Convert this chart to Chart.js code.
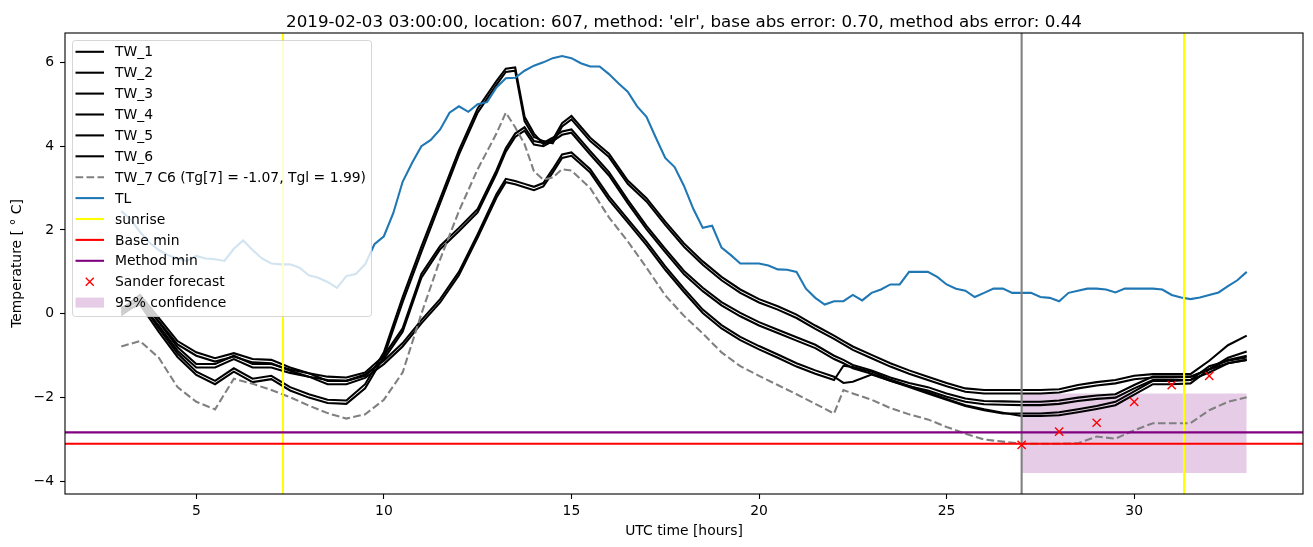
<!DOCTYPE html>
<html>
<head>
<meta charset="utf-8">
<title>Temperature forecast - location 607</title>
<script src="https://cdn.jsdelivr.net/npm/chart.js@4.4.1/dist/chart.umd.min.js"></script>
<style>
  html, body { margin: 0; padding: 0; background: #ffffff; }
  #wrap { width: 1313px; height: 547px; }
</style>
</head>
<body>
<div id="wrap"><canvas id="chart" width="1313" height="547"></canvas></div>
<script>
/* ══════════════════════════════════════
   DATA
══════════════════════════════════════ */
var hoursTW = [3, 3.5, 4, 4.5, 5, 5.5, 6, 6.5, 7, 7.5, 8, 8.5, 9, 9.5, 10, 10.5, 11, 11.5, 12, 12.5, 13,
  13.25, 13.5, 13.75, 14, 14.25, 14.5, 14.75, 15,
  15.5, 16, 16.5, 17, 17.5, 18, 18.5, 19, 19.5, 20, 20.5, 21, 21.5, 22, 22.25,
  22.5, 23, 23.5, 24, 24.5, 25, 25.5, 26, 26.5, 27, 27.5, 28, 28.5, 29, 29.5, 30, 30.5, 31, 31.5, 32, 32.5, 33];

var tw1 = [0.15, 0.3, -0.35, -0.95, -1.38, -1.6, -1.3, -1.55, -1.48, -1.75,
  -1.92, -2.05, -2.07, -1.68, -0.92, 0.4, 1.6, 2.75, 3.9, 4.9, 5.55,
  5.85, 5.88, 4.7, 4.3, 4.05, 4.15, 4.55, 4.72,
  4.2, 3.82, 3.18, 2.76, 2.2, 1.68, 1.25, 0.88, 0.58, 0.35, 0.18, -0.02, -0.28, -0.52,
  -0.65, -0.78,
  -0.98, -1.18, -1.35, -1.5, -1.65, -1.78, -1.82, -1.82, -1.82, -1.82, -1.8, -1.7, -1.63, -1.58, -1.48, -1.44, -1.44, -1.44, -1.12, -0.75, -0.52];
var tw2 = [0.05, 0.22, -0.43, -1.03, -1.46, -1.68, -1.38, -1.63, -1.56, -1.83,
  -2.0, -2.13, -2.15, -1.78, -1.02, 0.28, 1.48, 2.64, 3.8, 4.8, 5.46,
  5.77, 5.8, 4.6, 4.22, 4.12, 4.07, 4.47, 4.64,
  4.12, 3.74, 3.1, 2.68, 2.12, 1.6, 1.17, 0.8, 0.5, 0.27, 0.1, -0.1, -0.36, -0.6,
  -0.73, -0.86,
  -1.06, -1.26, -1.43, -1.58, -1.73, -1.86, -1.9, -1.9, -1.9, -1.9, -1.88, -1.78, -1.71, -1.66, -1.56, -1.52, -1.52, -1.51, -1.32, -1.05, -0.9];
var tw3 = [0.1, 0.45, -0.1, -0.65, -0.92, -1.06, -0.94, -1.08, -1.1, -1.28,
  -1.42, -1.5, -1.52, -1.4, -1.0, -0.35, 0.95, 1.62, 2.05, 2.5, 3.42,
  3.95, 4.3, 4.45, 4.12, 4.08, 4.2, 4.35, 4.4,
  3.88, 3.38, 2.72, 2.1, 1.55, 1.02, 0.62, 0.28, 0.02, -0.2, -0.38, -0.56, -0.74, -1.0,
  -1.1, -1.22,
  -1.35, -1.52, -1.65, -1.75, -1.9, -2.02, -2.08, -2.09, -2.1, -2.1, -2.07, -2.0, -1.95, -1.92, -1.7, -1.5, -1.5, -1.5, -1.32, -1.1, -1.0];
var tw4 = [0.02, 0.37, -0.18, -0.73, -1.0, -1.14, -1.02, -1.16, -1.18, -1.36,
  -1.5, -1.58, -1.6, -1.48, -1.08, -0.43, 0.86, 1.54, 1.97, 2.42, 3.34,
  3.87, 4.22, 4.37, 4.04, 4.0, 4.12, 4.27, 4.32,
  3.8, 3.3, 2.64, 2.02, 1.47, 0.94, 0.54, 0.2, -0.06, -0.28, -0.46, -0.64, -0.82, -1.08,
  -1.18, -1.3,
  -1.43, -1.6, -1.73, -1.83, -1.98, -2.1, -2.16, -2.17, -2.18, -2.18, -2.15, -2.08, -2.03, -2.0, -1.78, -1.58, -1.58, -1.58, -1.4, -1.18, -1.1];
var tw5 = [0.05, 0.35, -0.2, -0.8, -1.2, -1.2, -1.0, -1.2, -1.2, -1.33,
  -1.42, -1.6, -1.6, -1.45, -1.12, -0.7, -0.15, 0.35, 1.0, 1.9, 2.85,
  3.22, 3.17, 3.1, 3.03, 3.12, 3.45, 3.8, 3.85,
  3.45, 2.8, 2.26, 1.72, 1.13, 0.6, 0.1, -0.27, -0.55, -0.77, -0.97, -1.18, -1.35, -1.5,
  -1.65, -1.62,
  -1.45, -1.6, -1.75, -1.9, -2.05, -2.2, -2.3, -2.38, -2.38, -2.38, -2.35, -2.28, -2.2, -2.1, -1.85, -1.6, -1.6, -1.58, -1.25, -1.12, -1.04];
var tw6 = [-0.03, 0.27, -0.28, -0.88, -1.28, -1.28, -1.08, -1.28, -1.28, -1.41,
  -1.5, -1.68, -1.68, -1.53, -1.2, -0.78, -0.23, 0.27, 0.92, 1.82, 2.77,
  3.14, 3.09, 3.02, 2.95, 3.04, 3.37, 3.72, 3.77,
  3.37, 2.72, 2.18, 1.64, 1.05, 0.52, 0.02, -0.35, -0.63, -0.85, -1.05, -1.26, -1.43, -1.58,
  -1.24, -1.27,
  -1.38, -1.57, -1.72, -1.87, -2.03, -2.18, -2.28, -2.36, -2.44, -2.44, -2.42, -2.35, -2.27, -2.18, -1.93, -1.68, -1.68, -1.66, -1.33, -1.18, -1.1];
var tw7 = [-0.78, -0.65, -1.05, -1.75, -2.1, -2.28, -1.55, -1.67, -1.82, -1.99,
  -2.19, -2.37, -2.5, -2.4, -2.05, -1.4, 0.0, 1.3, 2.45, 3.45, 4.3,
  4.8, 4.45, 4.05, 3.4, 3.2, 3.25, 3.45, 3.42,
  3.0, 2.3, 1.73, 1.1, 0.44, -0.05, -0.47, -0.92, -1.25, -1.48, -1.7, -1.92, -2.15, -2.38,
  -1.82, -1.9,
  -2.05, -2.25, -2.4, -2.52, -2.7, -2.86, -3.0, -3.05, -3.1, -3.1, -3.1, -3.09, -2.93, -2.98, -2.78, -2.61, -2.61, -2.61, -2.3, -2.1, -1.99];

var hoursTL = [3, 3.25, 3.5, 3.75, 4, 4.25, 4.5, 4.75, 5, 5.25, 5.5, 5.75, 6, 6.25, 6.5, 6.75,
  7, 7.25, 7.5, 7.75, 8, 8.25, 8.5, 8.75, 9, 9.25, 9.5, 9.75, 10, 10.25, 10.5, 10.75,
  11, 11.25, 11.5, 11.75, 12, 12.25, 12.5, 12.75, 13, 13.25, 13.5, 13.75, 14, 14.25, 14.5, 14.75,
  15, 15.25, 15.5, 15.75, 16, 16.25, 16.5, 16.75, 17, 17.25, 17.5, 17.75, 18, 18.25, 18.5, 18.75,
  19, 19.25, 19.5, 19.75, 20, 20.25, 20.5, 20.75, 21, 21.25, 21.5, 21.75, 22, 22.25, 22.5, 22.75,
  23, 23.25, 23.5, 23.75, 24, 24.25, 24.5, 24.75, 25, 25.25, 25.5, 25.75, 26, 26.25, 26.5, 26.75,
  27, 27.25, 27.5, 27.75, 28, 28.25, 28.5, 28.75, 29, 29.25, 29.5, 29.75, 30, 30.25, 30.5, 30.75,
  31, 31.25, 31.5, 31.75, 32, 32.25, 32.5, 32.75, 33];
var tl = [2.45, 2.25, 1.95, 1.7, 1.52, 1.4, 1.32, 1.26, 1.38, 1.32, 1.3, 1.26, 1.55, 1.75, 1.52, 1.32,
  1.2, 1.18, 1.18, 1.1, 0.92, 0.86, 0.76, 0.62, 0.9, 0.95, 1.18, 1.66, 1.85, 2.4, 3.15, 3.6,
  4.0, 4.15, 4.4, 4.8, 4.95, 4.82, 5.0, 5.05, 5.4, 5.62, 5.63, 5.8, 5.92, 6.0, 6.1, 6.15,
  6.1, 5.98, 5.9, 5.9, 5.72, 5.5, 5.3, 4.95, 4.7, 4.2, 3.72, 3.5, 3.05, 2.5, 2.05, 2.1,
  1.58, 1.4, 1.2, 1.2, 1.2, 1.15, 1.06, 1.05, 1.0, 0.6, 0.38, 0.22, 0.3, 0.3, 0.45, 0.32,
  0.5, 0.58, 0.7, 0.7, 1.0, 1.0, 1.0, 0.88, 0.7, 0.6, 0.55, 0.4, 0.5, 0.6, 0.6, 0.5,
  0.5, 0.5, 0.4, 0.38, 0.3, 0.5, 0.55, 0.6, 0.6, 0.58, 0.51, 0.6, 0.6, 0.6, 0.6, 0.58,
  0.45, 0.39, 0.35, 0.39, 0.45, 0.51, 0.66, 0.8, 1.0];

var sunriseHours  = [7.31, 31.33];
var forecastStart = 27;
var baseMin       = -3.1;
var methodMin     = -2.83;
var sanderHours   = [27, 28, 29, 30, 31, 32];
var sanderTemps   = [-3.13, -2.81, -2.6, -2.1, -1.7, -1.48];
var confHours     = [27, 33];
var confUpper     = -1.9;
var confLower     = -3.8;

var xTicks  = [5, 10, 15, 20, 25, 30];
var yTicks  = [-4, -2, 0, 2, 4, 6];
var xLimits = [1.5, 34.5];
var yLimits = [-4.3, 6.7];

var titleText = "2019-02-03 03:00:00, location: 607, method: 'elr', base abs error: 0.70, method abs error: 0.44";

/* ══════════════════════════════════════
   HELPERS
══════════════════════════════════════ */
var FONT = '"DejaVu Sans", Verdana, sans-serif';

function pairs(xs, ys) {
  return xs.map(function(x, i) { return { x: x, y: ys[i] }; });
}

function lineSet(label, xs, ys, color, order, extra) {
  var ds = {
    label: label,
    data: pairs(xs, ys),
    borderColor: color,
    backgroundColor: color,
    borderWidth: 2.08,
    pointRadius: 0,
    tension: 0,
    fill: false,
    order: order
  };
  for (var k in (extra || {})) ds[k] = extra[k];
  return ds;
}

function vLine(x, color, order) {
  return lineSet('', [x, x], [yLimits[0], yLimits[1]], color, order);
}

function hLine(y, color, order) {
  return lineSet('', [xLimits[0], xLimits[1]], [y, y], color, order);
}

/* ══════════════════════════════════════
   LEGEND + FRAME + TEXTS (matplotlib look)
══════════════════════════════════════ */
var legendItems = [
  { label: 'TW_1', kind: 'line', color: '#000000' },
  { label: 'TW_2', kind: 'line', color: '#000000' },
  { label: 'TW_3', kind: 'line', color: '#000000' },
  { label: 'TW_4', kind: 'line', color: '#000000' },
  { label: 'TW_5', kind: 'line', color: '#000000' },
  { label: 'TW_6', kind: 'line', color: '#000000' },
  { label: 'TW_7 C6 (Tg[7] = -1.07, Tgl = 1.99)', kind: 'dash', color: '#808080' },
  { label: 'TL', kind: 'line', color: '#1f77b4' },
  { label: 'sunrise', kind: 'line', color: '#ffff00' },
  { label: 'Base min', kind: 'line', color: '#ff0000' },
  { label: 'Method min', kind: 'line', color: '#800080' },
  { label: 'Sander forecast', kind: 'cross', color: '#ff0000' },
  { label: '95% confidence', kind: 'patch', color: 'rgba(128,0,128,0.2)' }
];

function roundRect(ctx, x, y, w, h, r) {
  ctx.beginPath();
  ctx.moveTo(x + r, y);
  ctx.lineTo(x + w - r, y);
  ctx.arcTo(x + w, y, x + w, y + r, r);
  ctx.lineTo(x + w, y + h - r);
  ctx.arcTo(x + w, y + h, x + w - r, y + h, r);
  ctx.lineTo(x + r, y + h);
  ctx.arcTo(x, y + h, x, y + h - r, r);
  ctx.lineTo(x, y + r);
  ctx.arcTo(x, y, x + r, y, r);
  ctx.closePath();
}

var decorPlugin = {
  id: 'decor',
  afterDraw: function(chart) {
    var ctx = chart.ctx;
    var ca  = chart.chartArea;
    ctx.save();

    /* axes frame */
    ctx.strokeStyle = '#000000';
    ctx.lineWidth = 1.1;
    ctx.strokeRect(ca.left, ca.top, ca.right - ca.left, ca.bottom - ca.top);

    /* legend box */
    var bx = ca.left + 7, by = ca.top + 7, bw = 299, bh = 276;
    roundRect(ctx, bx + 0.5, by + 0.5, bw, bh, 3);
    ctx.fillStyle = 'rgba(255,255,255,0.8)';
    ctx.fill();
    ctx.strokeStyle = 'rgba(204,204,204,0.8)';
    ctx.lineWidth = 1;
    ctx.stroke();

    ctx.font = '13.9px ' + FONT;
    ctx.textBaseline = 'middle';
    ctx.textAlign = 'left';
    var hx0 = bx + 3.5, hx1 = bx + 32;
    legendItems.forEach(function(it, i) {
      var y = by + 11.8 + i * 20.9;
      ctx.setLineDash([]);
      if (it.kind === 'line' || it.kind === 'dash') {
        ctx.strokeStyle = it.color;
        ctx.lineWidth = 2.08;
        if (it.kind === 'dash') ctx.setLineDash([7.7, 3.3]);
        ctx.beginPath();
        ctx.moveTo(hx0, y);
        ctx.lineTo(hx1, y);
        ctx.stroke();
        ctx.setLineDash([]);
      } else if (it.kind === 'cross') {
        var cx = (hx0 + hx1) / 2, s = 4;
        ctx.strokeStyle = it.color;
        ctx.lineWidth = 1.4;
        ctx.beginPath();
        ctx.moveTo(cx - s, y - s); ctx.lineTo(cx + s, y + s);
        ctx.moveTo(cx - s, y + s); ctx.lineTo(cx + s, y - s);
        ctx.stroke();
      } else {
        ctx.fillStyle = it.color;
        ctx.fillRect(hx0, y - 5, hx1 - hx0, 10);
      }
      ctx.fillStyle = '#000000';
      ctx.fillText(it.label, bx + 43, y + 1);
    });

    /* title and axis labels */
    ctx.fillStyle = '#000000';
    ctx.textAlign = 'center';
    ctx.textBaseline = 'alphabetic';
    ctx.font = '16.7px ' + FONT;
    ctx.fillText(titleText, (ca.left + ca.right) / 2, ca.top - 6.5);

    ctx.font = '13.9px ' + FONT;
    ctx.fillText('UTC time [hours]', (ca.left + ca.right) / 2, 535);

    ctx.translate(21, (ca.top + ca.bottom) / 2);
    ctx.rotate(-Math.PI / 2);
    ctx.fillText('Temperature [ \u00b0 C]', 0, 0);

    ctx.restore();
  }
};

/* ══════════════════════════════════════
   DATASETS (later = drawn on top, like matplotlib)
══════════════════════════════════════ */
var datasets = [];
var twSeries = [tw1, tw2, tw3, tw4, tw5, tw6];
twSeries.forEach(function(s, i) {
  datasets.push(lineSet('TW_' + (i + 1), hoursTW, s, '#000000', 90 - i));
});
datasets.push(lineSet('TW_7', hoursTW, tw7, '#808080', 80, { borderDash: [7.7, 3.3] }));
datasets.push(lineSet('TL', hoursTL, tl, '#1f77b4', 70));
sunriseHours.forEach(function(h, i) {
  datasets.push(vLine(h, '#ffff00', 60 - i));
});
datasets.push(vLine(forecastStart, '#808080', 50));
datasets.push(hLine(baseMin, '#ff0000', 40));
datasets.push(hLine(methodMin, '#800080', 30));
datasets.push({
  label: 'Sander forecast',
  data: pairs(sanderHours, sanderTemps),
  showLine: false,
  pointStyle: 'crossRot',
  pointRadius: 5.8,
  pointBorderWidth: 1.4,
  pointBorderColor: '#ff0000',
  pointBackgroundColor: '#ff0000',
  order: 20
});
datasets.push({
  label: '95% confidence',
  data: pairs(confHours, [confUpper, confUpper]),
  borderColor: 'rgba(0,0,0,0)',
  borderWidth: 1,
  backgroundColor: 'rgba(128,0,128,0.2)',
  pointRadius: 0,
  fill: { value: confLower },
  order: 100
});

/* ══════════════════════════════════════
   CHART
══════════════════════════════════════ */
function tickLabel(v) {
  return String(v).replace('-', '\u2212');
}

new Chart(document.getElementById('chart').getContext('2d'), {
  type: 'line',
  data: { datasets: datasets },
  plugins: [decorPlugin],
  options: {
    responsive: false,
    animation: false,
    devicePixelRatio: 1,
    layout: { padding: { left: 0, right: 10, top: 33, bottom: 0 } },
    plugins: {
      legend: { display: false },
      title: { display: false },
      tooltip: { enabled: false }
    },
    scales: {
      x: {
        type: 'linear',
        min: xLimits[0],
        max: xLimits[1],
        afterBuildTicks: function(scale) {
          scale.ticks = xTicks.map(function(v) { return { value: v }; });
        },
        afterFit: function(scale) { scale.height = 53; },
        grid: { drawOnChartArea: false, drawTicks: true, tickLength: 5, tickColor: '#000000', tickWidth: 1.1 },
        border: { display: false },
        ticks: {
          padding: 4,
          color: '#000000',
          maxRotation: 0,
          autoSkip: false,
          font: { family: FONT, size: 13.9 },
          callback: tickLabel
        }
      },
      y: {
        type: 'linear',
        min: yLimits[0],
        max: yLimits[1],
        afterBuildTicks: function(scale) {
          scale.ticks = yTicks.map(function(v) { return { value: v }; });
        },
        afterFit: function(scale) { scale.width = 65; },
        grid: { drawOnChartArea: false, drawTicks: true, tickLength: 5, tickColor: '#000000', tickWidth: 1.1 },
        border: { display: false },
        ticks: {
          padding: 6,
          color: '#000000',
          autoSkip: false,
          font: { family: FONT, size: 13.9 },
          callback: tickLabel
        }
      }
    }
  }
});
</script>
</body>
</html>
